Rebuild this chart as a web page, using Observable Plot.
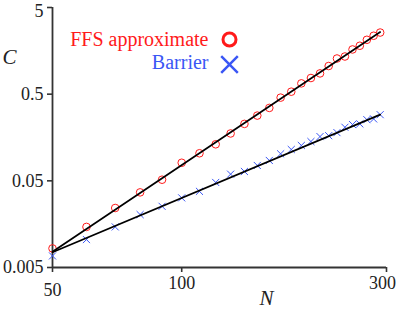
<!DOCTYPE html>
<html>
<head>
<meta charset="utf-8">
<script src="https://cdn.jsdelivr.net/npm/d3@7"></script>
<script src="https://cdn.jsdelivr.net/npm/@observablehq/plot@0.6"></script>
<style>
  html, body { margin: 0; padding: 0; background: #fff; }
</style>
</head>
<body>
<div id="chart"></div>
<script>
// ---- data ----
const N = [50, 60, 70, 80, 90, 100, 110, 120, 130, 140, 150, 160, 170, 180, 190,
           200, 210, 220, 230, 240, 250, 260, 270, 280, 290];
const ffsC = [0.0083, 0.0147, 0.0243, 0.0368, 0.0515, 0.0808, 0.104, 0.132, 0.176, 0.227,
              0.283, 0.347, 0.456, 0.534, 0.666, 0.768, 0.868, 1.056, 1.29, 1.36,
              1.64, 1.81, 2.12, 2.36, 2.57];
const barrierC = [0.0068, 0.0105, 0.0147, 0.0204, 0.0254, 0.0318, 0.0378, 0.0479, 0.0597, 0.0641,
                  0.0752, 0.0859, 0.1025, 0.115, 0.128, 0.142, 0.162, 0.166, 0.180, 0.2075,
                  0.223, 0.227, 0.254, 0.259, 0.290];
// power-law fits C = C50 * (N/50)^b
const seriesNames = ["FFS approximate", "Barrier"];
const fitC50 = [0.0076, 0.0075];
const fitExponent = [3.32, 2.08];
const xTicks = [50, 100, 300];
const yTicks = [0.005, 0.05, 0.5, 5];

const red = "#ff1a1a";
const blue = "#3a56f5";
const axisColor = "#333";
const textColor = "#222";
const tickFont = 18;

const ffsData = N.map((n, i) => ({N: n, C: ffsC[i]}));
const barData = N.map((n, i) => ({N: n, C: barrierC[i]}));
const fitLines = seriesNames.flatMap((s, k) =>
  [N[0], N[N.length - 1]].map(n => ({series: s, N: n, C: fitC50[k] * Math.pow(n / 50, fitExponent[k])})));

const plot = Plot.plot({
  width: 398,
  height: 309,
  marginLeft: 52,
  marginRight: 12,
  marginTop: 7,
  marginBottom: 42,
  style: {fontFamily: "'Liberation Serif', serif", background: "#fff", color: textColor},
  x: {type: "log", domain: [50, 300], axis: null},
  y: {type: "log", domain: [0.005, 5], axis: null},
  marks: [
    // tick marks (labels drawn separately)
    Plot.axisY({ticks: yTicks, tickFormat: () => "", tickSize: 5, stroke: axisColor, strokeWidth: 1.6, label: null}),
    Plot.axisX({ticks: xTicks, tickFormat: () => "", tickSize: 5, stroke: axisColor, strokeWidth: 1.6, label: null}),
    // tick labels
    Plot.text(yTicks.filter(d => d < 5), {y: d => d, text: d => String(d), frameAnchor: "left", dx: -9,
                       textAnchor: "end", lineAnchor: "middle", fontSize: tickFont, fill: textColor}),
    Plot.text(yTicks.filter(d => d === 5), {y: d => d, text: d => String(d), frameAnchor: "left", dx: -9, dy: 4,
                       textAnchor: "end", lineAnchor: "middle", fontSize: tickFont, fill: textColor}),
    Plot.text(xTicks.filter(d => d === 100), {x: d => d, text: d => String(d), frameAnchor: "bottom", dy: 9,
                       lineAnchor: "top", fontSize: tickFont, fill: textColor}),
    Plot.text(xTicks.filter(d => d === 300), {x: d => d, text: d => String(d), frameAnchor: "bottom", dy: 9, dx: -4,
                       lineAnchor: "top", fontSize: tickFont, fill: textColor}),
    Plot.text(xTicks.filter(d => d === 50), {x: d => d, text: d => String(d), frameAnchor: "bottom", dy: 16,
                       lineAnchor: "top", fontSize: tickFont, fill: textColor}),
    // axis lines
    Plot.ruleX([50], {stroke: axisColor, strokeWidth: 1.8}),
    Plot.ruleY([0.005], {stroke: axisColor, strokeWidth: 1.8}),
    // data
    Plot.dot(ffsData, {x: "N", y: "C", r: 3.8, stroke: red, strokeWidth: 1, fill: "none"}),
    Plot.dot(barData, {x: "N", y: "C", symbol: "times", r: 3.3, stroke: blue, strokeWidth: 1}),
    Plot.line(fitLines, {x: "N", y: "C", z: "series", stroke: "#000", strokeWidth: 1.7}),
    // axis titles
    Plot.text(["C"], {frameAnchor: "top-left", dx: -43, dy: 50, fontSize: 21, fontStyle: "italic",
                      lineAnchor: "middle", textAnchor: "middle", fill: textColor}),
    Plot.text(["N"], {frameAnchor: "bottom-left", dx: 214, dy: 37, fontSize: 21, fontStyle: "italic",
                      lineAnchor: "bottom", textAnchor: "middle", fill: textColor}),
    // legend
    Plot.text([seriesNames[0]], {frameAnchor: "top-left", dx: 156, dy: 38, fontSize: 20,
                                 lineAnchor: "bottom", textAnchor: "end", fill: red}),
    Plot.text([seriesNames[1]], {frameAnchor: "top-left", dx: 156, dy: 61, fontSize: 20,
                                 lineAnchor: "bottom", textAnchor: "end", fill: blue}),
    Plot.dot([0], {frameAnchor: "top-left", dx: 177, dy: 32, r: 6.5, stroke: red, strokeWidth: 3, fill: "none"}),
    Plot.dot([0], {frameAnchor: "top-left", dx: 177, dy: 57, symbol: "times", r: 7.6, stroke: blue, strokeWidth: 2.5})
  ]
});
document.getElementById("chart").appendChild(plot);
</script>
</body>
</html>
